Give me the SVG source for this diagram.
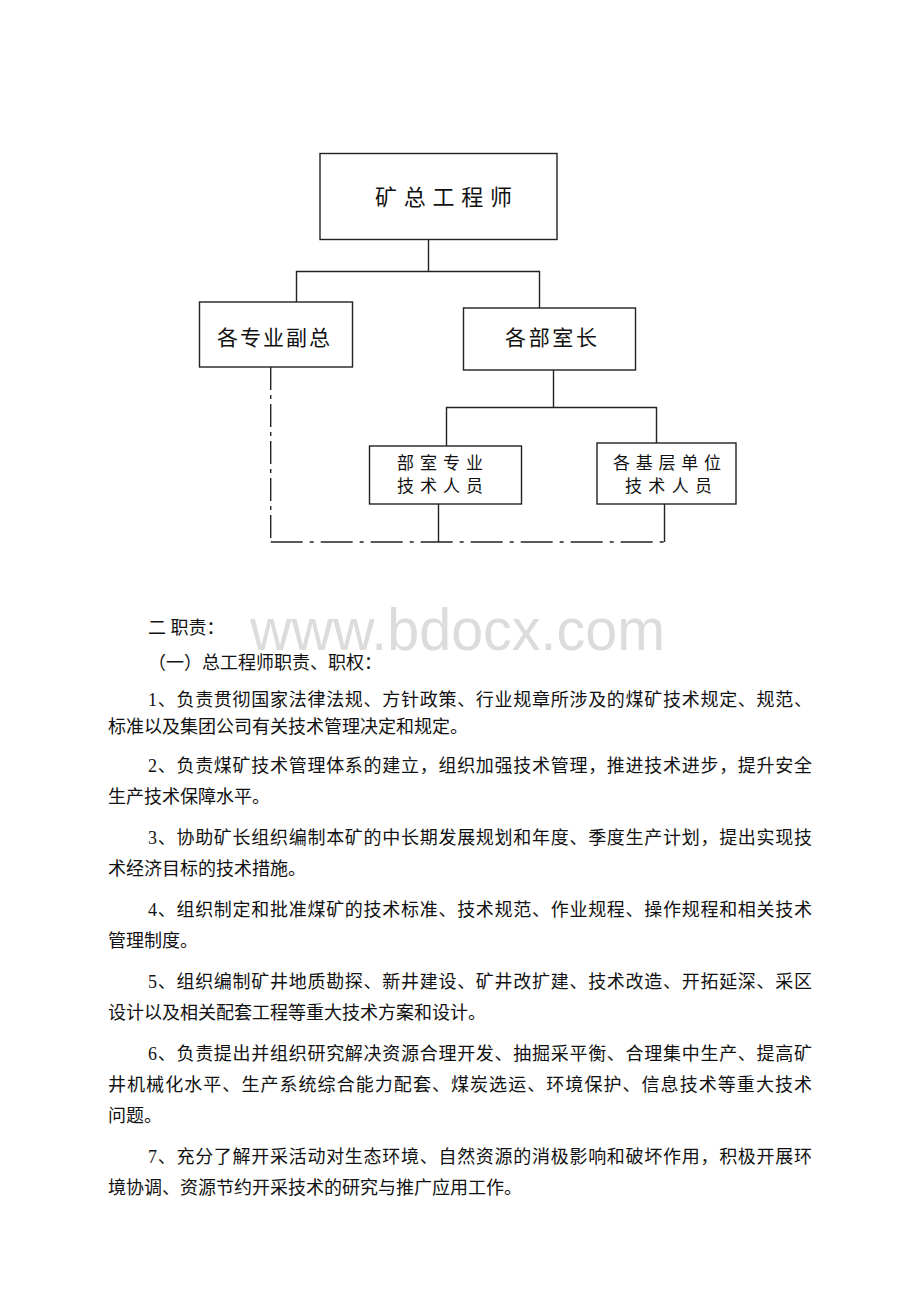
<svg xmlns="http://www.w3.org/2000/svg" width="920" height="1302" viewBox="0 0 920 1302">
<style>
.box{fill:#fff;stroke:#222;stroke-width:1.4}
.ln{fill:none;stroke:#222;stroke-width:1.4}
.dd{fill:none;stroke:#222;stroke-width:1.4}
.nt{font-family:"Noto Sans CJK SC","Liberation Sans",sans-serif;fill:#111}
.bt{font-family:"Liberation Serif","Noto Sans CJK SC",serif;font-size:18px;fill:#111}
.wm{font-family:"Liberation Sans",sans-serif;font-size:60px;fill:#dcdcdc}
</style>
<rect width="920" height="1302" fill="#fff"/>
<g id="connectors">
<path class="ln" d="M428.5 239.5V271.5M296.5 302V271.5H539.5V308"/>
<path class="ln" d="M553.5 370V407.5M446.5 446V407.5H656.5V443"/>
<path class="ln" d="M438.5 504V542M664.5 504V542"/>
<path class="dd" d="M270.7 367V542" stroke-dasharray="23 5 4 5"/>
<path class="dd" d="M270.7 542H664.5" stroke-dasharray="32 7 4 7"/>
</g>
<g id="node-chief">
<rect class="box" x="320" y="153.5" width="237" height="86"/>
<text class="nt" x="375" y="205" font-size="22" textLength="137" lengthAdjust="spacing">矿总工程师</text>
</g>
<g id="node-vice">
<rect class="box" x="199.5" y="302" width="153" height="65"/>
<text class="nt" x="217" y="345" font-size="21" textLength="113" lengthAdjust="spacing">各专业副总</text>
</g>
<g id="node-dept">
<rect class="box" x="463.5" y="308" width="172" height="62"/>
<text class="nt" x="505" y="345" font-size="21" textLength="92" lengthAdjust="spacing">各部室长</text>
</g>
<g id="node-deptstaff">
<rect class="box" x="369.5" y="446" width="152" height="58"/>
<text class="nt" font-size="17"><tspan x="397" y="469" textLength="86" lengthAdjust="spacing">部室专业</tspan><tspan x="397" y="492" textLength="86" lengthAdjust="spacing">技术人员</tspan></text>
</g>
<g id="node-unitstaff">
<rect class="box" x="597" y="443" width="139" height="61"/>
<text class="nt" font-size="17"><tspan x="613" y="469" textLength="108" lengthAdjust="spacing">各基层单位</tspan><tspan x="625" y="492" textLength="87" lengthAdjust="spacing">技术人员</tspan></text>
</g>
<text class="wm" x="250" y="650" textLength="415" lengthAdjust="spacingAndGlyphs">www.bdocx.com</text>
<g id="body">
<text class="bt" x="148" y="634">二 职责：</text>
<text class="bt" x="148" y="669">（一）总工程师职责、职权：</text>
<text class="bt" x="148" y="706" textLength="664" lengthAdjust="spacing">1、负责贯彻国家法律法规、方针政策、行业规章所涉及的煤矿技术规定、规范、</text>
<text class="bt" x="108" y="733">标准以及集团公司有关技术管理决定和规定。</text>
<text class="bt" x="148" y="772" textLength="664" lengthAdjust="spacing">2、负责煤矿技术管理体系的建立，组织加强技术管理，推进技术进步，提升安全</text>
<text class="bt" x="108" y="803">生产技术保障水平。</text>
<text class="bt" x="148" y="844" textLength="664" lengthAdjust="spacing">3、协助矿长组织编制本矿的中长期发展规划和年度、季度生产计划，提出实现技</text>
<text class="bt" x="108" y="875">术经济目标的技术措施。</text>
<text class="bt" x="148" y="916" textLength="664" lengthAdjust="spacing">4、组织制定和批准煤矿的技术标准、技术规范、作业规程、操作规程和相关技术</text>
<text class="bt" x="108" y="947">管理制度。</text>
<text class="bt" x="148" y="988" textLength="664" lengthAdjust="spacing">5、组织编制矿井地质勘探、新井建设、矿井改扩建、技术改造、开拓延深、采区</text>
<text class="bt" x="108" y="1019">设计以及相关配套工程等重大技术方案和设计。</text>
<text class="bt" x="148" y="1060" textLength="664" lengthAdjust="spacing">6、负责提出并组织研究解决资源合理开发、抽掘采平衡、合理集中生产、提高矿</text>
<text class="bt" x="108" y="1091" textLength="704" lengthAdjust="spacing">井机械化水平、生产系统综合能力配套、煤炭选运、环境保护、信息技术等重大技术</text>
<text class="bt" x="108" y="1122">问题。</text>
<text class="bt" x="148" y="1163" textLength="664" lengthAdjust="spacing">7、充分了解开采活动对生态环境、自然资源的消极影响和破坏作用，积极开展环</text>
<text class="bt" x="108" y="1194">境协调、资源节约开采技术的研究与推广应用工作。</text>
</g>
</svg>
